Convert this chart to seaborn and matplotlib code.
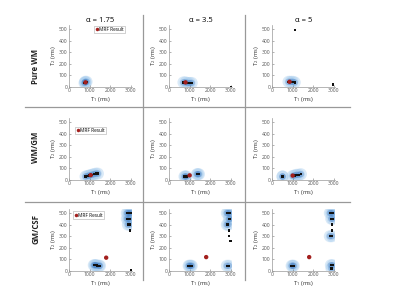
import numpy as np
import seaborn as sns
import pandas as pd
import matplotlib.pyplot as plt
from matplotlib.lines import Line2D

alpha_labels = ["α = 1.75", "α = 3.5", "α = 5"]
mix_labels = ["Pure WM", "WM/GM", "GM/CSF"]

# dictionary matches (black dots) per panel: row = tissue mix, col = alpha
t1_wm_a1 = [750, 800, 850, 780]
t2_wm_a1 = [35, 40, 45, 45]
t1_wm_a2 = [700, 800, 900, 1000, 1100, 3000]
t2_wm_a2 = [40, 40, 35, 35, 35, 0]
t1_wm_a3 = [800, 900, 1000, 1100, 1100, 2950]
t2_wm_a3 = [45, 45, 45, 40, 490, 20]

t1_wg_a1 = [800, 900, 1000, 1100, 1200, 1300, 1400]
t2_wg_a1 = [30, 35, 40, 45, 50, 55, 55]
t1_wg_a2 = [750, 800, 850, 1350, 1400, 1450]
t2_wg_a2 = [30, 30, 30, 50, 50, 50]
t1_wg_a3 = [500, 520, 1000, 1100, 1200, 1300, 1400]
t2_wg_a3 = [30, 30, 35, 40, 45, 45, 50]

t1_gc_a1 = [1200, 1250, 1300, 1350, 1450, 1500,
            2800, 2870, 2940, 3000, 2800, 2870, 2940, 2850, 2940, 2950, 3000]
t2_gc_a1 = [50, 50, 50, 48, 45, 45,
            500, 500, 500, 500, 450, 450, 450, 400, 400, 350, 5]
t1_gc_a2 = [950, 1000, 1050, 1100,
            2800, 2870, 2940, 2900, 2960, 2800, 2870, 2900, 2900, 2980, 2800, 2900]
t2_gc_a2 = [45, 45, 45, 45,
            500, 500, 500, 450, 450, 400, 400, 350, 300, 260, 45, 45]
t1_gc_a3 = [950, 1000, 1050,
            2800, 2870, 2940, 2870, 2940, 2900, 2900, 2800, 2900, 2850, 2930, 2880]
t2_gc_a3 = [45, 45, 45,
            500, 500, 500, 450, 450, 400, 350, 300, 300, 50, 50, 20]

# MRF result (red dot) per panel
mrf_t1 = [[800, 800, 850], [1050, 1000, 1000], [1800, 1800, 1800]]
mrf_t2 = [[40, 40, 45], [42, 40, 38], [115, 120, 120]]

dots = [
    [(t1_wm_a1, t2_wm_a1), (t1_wm_a2, t2_wm_a2), (t1_wm_a3, t2_wm_a3)],
    [(t1_wg_a1, t2_wg_a1), (t1_wg_a2, t2_wg_a2), (t1_wg_a3, t2_wg_a3)],
    [(t1_gc_a1, t2_gc_a1), (t1_gc_a2, t2_gc_a2), (t1_gc_a3, t2_gc_a3)],
]

plt.rcParams["font.family"] = ["Open Sans", "DejaVu Sans"]
plt.rcParams["mathtext.default"] = "regular"

fig = plt.figure(figsize=(4, 3.04), dpi=100)

W, H = 400, 304
col_left = [69, 169, 272]
row_bottom = [87, 180, 271]
ax_w, ax_h = 63, 62

legend_spots = [("upper right", (0.89, 0.99)), ("upper left", (0.10, 0.86)), ("upper left", (0.07, 0.96))]

for r in range(3):
    for c in range(3):
        ax = fig.add_axes([col_left[c] / W, 1 - row_bottom[r] / H, ax_w / W, ax_h / H])
        x, y = dots[r][c]
        df = pd.DataFrame({"T1": x, "T2": y})
        # only clustered matches get the density halo
        xn = df["T1"].to_numpy() / 3000
        yn = df["T2"].to_numpy() / 535
        d = np.hypot(xn[:, None] - xn[None, :], yn[:, None] - yn[None, :])
        np.fill_diagonal(d, 9)
        dense = df[d.min(axis=1) < 0.07]
        sns.scatterplot(data=dense, x="T1", y="T2", s=75, color="#a8cdee", alpha=0.42,
                        edgecolor="none", ax=ax, zorder=1)
        sns.scatterplot(data=dense, x="T1", y="T2", s=22, color="#3a78c0", alpha=0.32,
                        edgecolor="none", ax=ax, zorder=2)
        sns.scatterplot(data=df, x="T1", y="T2", s=3, color="#111111", marker="s",
                        edgecolor="none", ax=ax, zorder=3)
        red = pd.DataFrame({"T1": [mrf_t1[r][c]], "T2": [mrf_t2[r][c]], "k": ["MRF Result"]})
        sns.scatterplot(data=red, x="T1", y="T2", hue="k", palette=["#a3201e"], s=10,
                        edgecolor="none", ax=ax, zorder=4, legend=(c == 0))
        ax.set_xlim(0, 3050)
        ax.set_ylim(0, 535)
        ax.set_xticks([0, 1000, 2000, 3000])
        ax.set_yticks([0, 100, 200, 300, 400, 500])
        ax.tick_params(labelsize=3.6, colors="#777777", labelcolor="#555555",
                       direction="in", length=1.2, width=0.4, pad=1)
        for s in ["top", "right"]:
            ax.spines[s].set_visible(False)
        for s in ["left", "bottom"]:
            ax.spines[s].set_color("#999999")
            ax.spines[s].set_linewidth(0.5)
        ax.set_xlabel("T$_1$ (ms)", fontsize=4.2, color="#333333", labelpad=1)
        ax.set_ylabel("T$_2$ (ms)", fontsize=4.2, color="#333333", labelpad=1)
        if r == 0:
            ax.set_title(alpha_labels[c], fontsize=5.5, pad=2)
        if c == 0:
            loc, anchor = legend_spots[r]
            leg = ax.legend(loc=loc, bbox_to_anchor=anchor, fontsize=3.4, frameon=True,
                            fancybox=False, borderpad=0.25, handlelength=0.6,
                            handletextpad=0.2, borderaxespad=0, markerscale=0.8)
            leg.get_frame().set_edgecolor("#999999")
            leg.get_frame().set_linewidth(0.4)

row_label_y = [66, 147, 229]
for r in range(3):
    fig.text(36 / W, 1 - row_label_y[r] / H, mix_labels[r], rotation=90,
             ha="center", va="center", fontsize=5.6, fontweight="bold", color="#222222")

for xv in [143, 245]:
    fig.add_artist(Line2D([xv / W, xv / W], [1 - 15 / H, 1 - 280 / H],
                          color="#999999", lw=0.9))
for yv in [107, 202]:
    fig.add_artist(Line2D([25 / W, 350 / W], [1 - yv / H, 1 - yv / H],
                          color="#999999", lw=0.9))

fig.savefig("out.png", dpi=100)
